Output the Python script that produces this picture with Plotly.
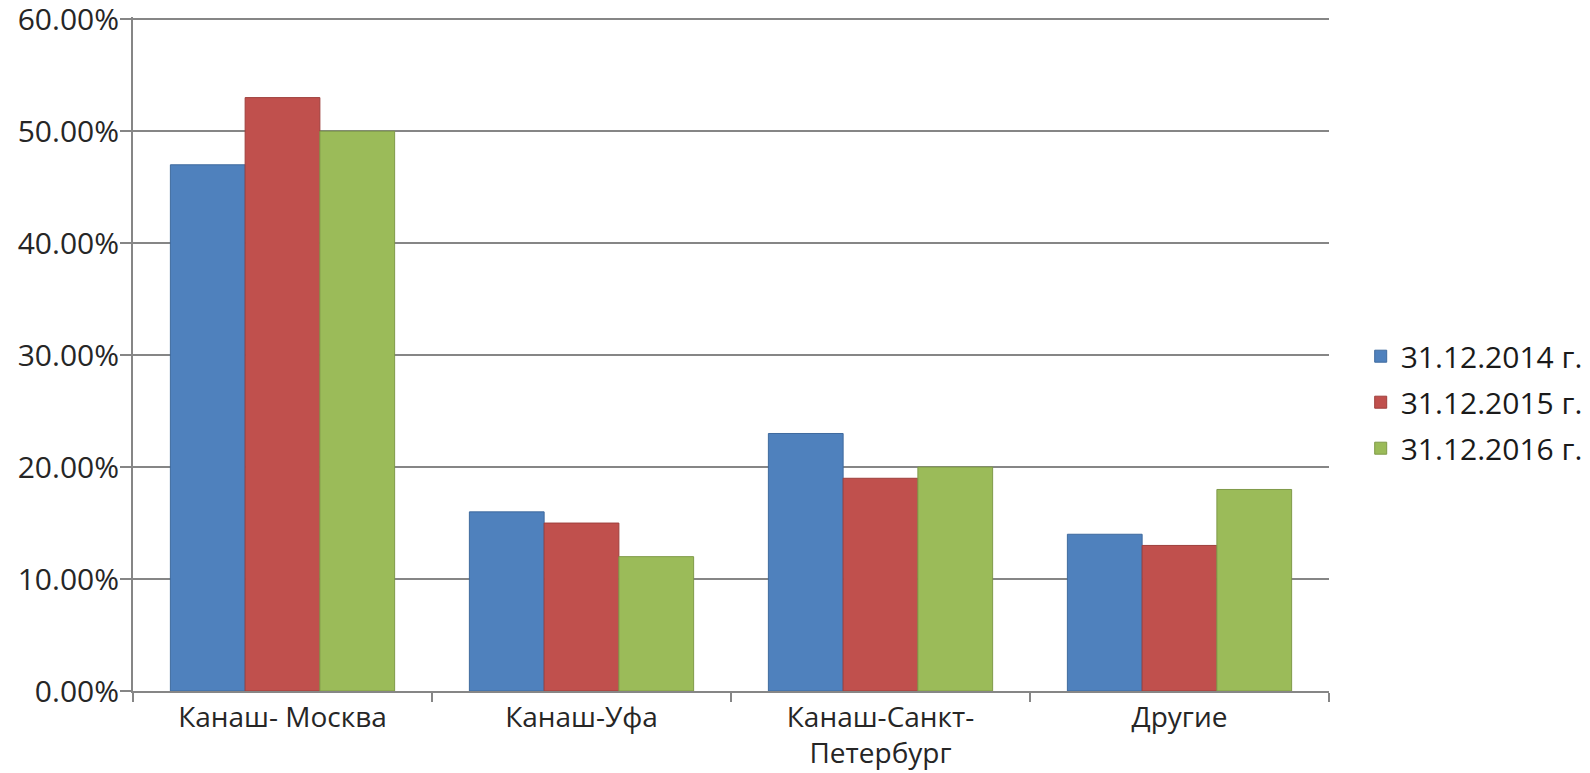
import plotly.graph_objects as go

categories = ["Канаш- Москва", "Канаш-Уфа", "Канаш-Санкт-<br>Петербург", "Другие"]
series_names = ["31.12.2014 г.", "31.12.2015 г.", "31.12.2016 г."]
values_2014 = [47, 16, 23, 14]
values_2015 = [53, 15, 19, 13]
values_2016 = [50, 12, 20, 18]
colors = ["#4F81BD", "#C0504D", "#9BBB59"]
borders = ["#3F6A9E", "#9E3F3C", "#7F9A48"]
y_ticks = [0, 10, 20, 30, 40, 50, 60]
y_tick_labels = ["0.00%", "10.00%", "20.00%", "30.00%", "40.00%", "50.00%", "60.00%"]

fig = go.Figure()
for name, vals, c, b in zip(series_names, [values_2014, values_2015, values_2016], colors, borders):
    fig.add_trace(go.Bar(
        x=categories, y=vals, name=name, legendgroup=name,
        marker=dict(color=c, line=dict(color=b, width=1)),
    ))

grid = "#868686"
fig.update_layout(
    width=1605, height=767,
    margin=dict(l=125, r=284, t=9, b=84, autoexpand=False),
    paper_bgcolor="white", plot_bgcolor="white",
    barmode="group", bargap=0.25, bargroupgap=0,
    font=dict(family="Open Sans", size=28, color="#262626"),
    legend=dict(
        x=1.0265, y=0.4285, xanchor="left", yanchor="middle",
        font=dict(size=30, color="#1a1a1a"),
        itemwidth=30, traceorder="grouped", tracegroupgap=4,
        bgcolor="rgba(0,0,0,0)",
    ),
    showlegend=True,
)
fig.update_xaxes(
    type="category", showline=True, linecolor=grid, linewidth=2,
    ticks="outside", tickson="boundaries", ticklen=9, tickcolor=grid, tickwidth=2,
    showgrid=False, tickfont=dict(size=28), automargin=False,
)
fig.update_yaxes(
    range=[0, 60.2], tickmode="array", tickvals=y_ticks, ticktext=y_tick_labels,
    showline=True, linecolor=grid, linewidth=2,
    ticks="outside", ticklen=11, tickcolor=grid, tickwidth=2,
    showgrid=True, gridcolor=grid, gridwidth=2, zeroline=False,
    tickfont=dict(size=30), automargin=False, ticklabeloverflow="allow",
    ticklabelstandoff=-5,
)
fig.write_html("out.html")
